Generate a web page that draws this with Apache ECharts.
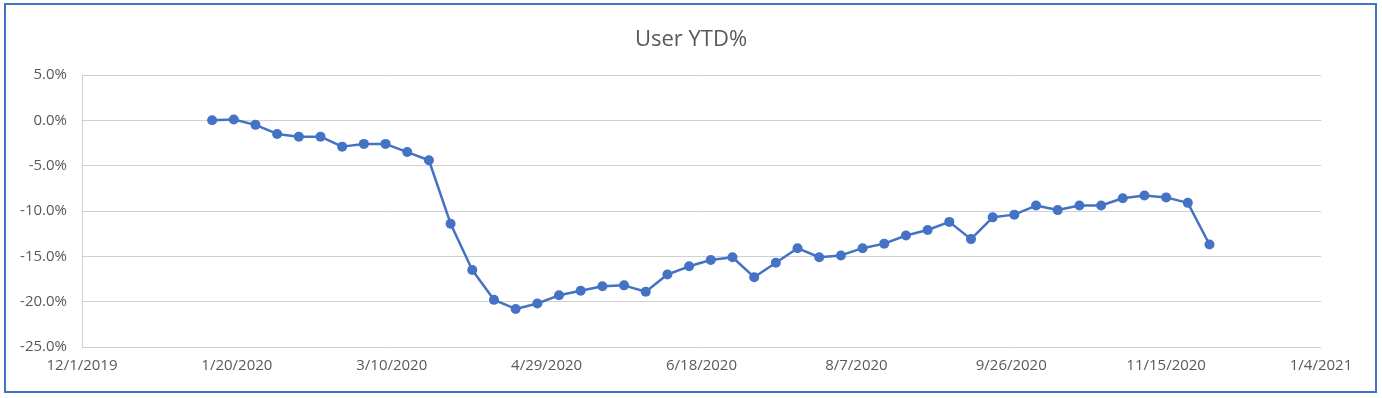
<!DOCTYPE html>
<html>
<head>
<meta charset="utf-8">
<script src="https://cdn.jsdelivr.net/npm/echarts@6/dist/echarts.min.js"></script>
<style>
html,body{margin:0;padding:0;background:#fff;}
#chart{width:1382px;height:398px;}
</style>
</head>
<body>
<div id="chart"></div>
<script>
const dates = [
  '1/12/2020','1/19/2020','1/26/2020','2/2/2020','2/9/2020','2/16/2020','2/23/2020','3/1/2020',
  '3/8/2020','3/15/2020','3/22/2020','3/29/2020','4/5/2020','4/12/2020','4/19/2020','4/26/2020',
  '5/3/2020','5/10/2020','5/17/2020','5/24/2020','5/31/2020','6/7/2020','6/14/2020','6/21/2020',
  '6/28/2020','7/5/2020','7/12/2020','7/19/2020','7/26/2020','8/2/2020','8/9/2020','8/16/2020',
  '8/23/2020','8/30/2020','9/6/2020','9/13/2020','9/20/2020','9/27/2020','10/4/2020','10/11/2020',
  '10/18/2020','10/25/2020','11/1/2020','11/8/2020','11/15/2020','11/22/2020','11/29/2020'
];
const userYTD = [
  0.0, 0.1, -0.5, -1.5, -1.8, -1.8, -2.9, -2.6,
  -2.6, -3.5, -4.4, -11.4, -16.5, -19.8, -20.8, -20.2,
  -19.3, -18.8, -18.3, -18.2, -18.9, -17.0, -16.1, -15.4,
  -15.1, -17.3, -15.7, -14.1, -15.1, -14.9, -14.1, -13.6,
  -12.7, -12.1, -11.2, -13.1, -10.7, -10.4, -9.4, -9.9,
  -9.4, -9.4, -8.6, -8.3, -8.5, -9.1, -13.7
];
const xTickStart = '12/1/2019';
const xTickEnd = '1/4/2021';
const xTickStepDays = 50;
const yTicks = [-25, -20, -15, -10, -5, 0, 5];

function toSerial(s){
  const p = s.split('/').map(Number);
  return Date.UTC(p[2], p[0]-1, p[1]) / 86400000 + 25569;
}
function fromSerial(n){
  const d = new Date((n - 25569) * 86400000);
  return (d.getUTCMonth()+1) + '/' + d.getUTCDate() + '/' + d.getUTCFullYear();
}

const seriesData = dates.map((d,i)=>[toSerial(d), userYTD[i]]);
const font = '"Open Sans", "DejaVu Sans", sans-serif';
const txt = '#595959';

const chart = echarts.init(document.getElementById('chart'), null, {renderer:'canvas'});
chart.setOption({
  animation:false,
  backgroundColor:'#fff',
  title:{
    text:'User YTD%', left:'center', top:24,
    textStyle:{fontFamily:font, fontSize:22, fontWeight:'normal', color:txt}
  },
  graphic:[{
    type:'rect', silent:true, z:100,
    shape:{x:5, y:4, width:1371, height:388},
    style:{fill:'none', stroke:'#4472C4', lineWidth:2}
  }],
  grid:{left:82, right:61, top:75, bottom:51, containLabel:false},
  xAxis:{
    type:'value',
    min: toSerial(xTickStart),
    max: toSerial(xTickEnd),
    interval: xTickStepDays,
    axisLine:{show:true, lineStyle:{color:'#D0D0D0', width:1}},
    axisTick:{show:false},
    splitLine:{show:false},
    axisLabel:{
      formatter: v => fromSerial(v),
      fontFamily:font, fontSize:15, color:txt, margin:11
    }
  },
  yAxis:{
    type:'value',
    min: yTicks[0], max: yTicks[yTicks.length-1], interval: 5,
    axisLine:{show:true, lineStyle:{color:'#D0D0D0', width:1}},
    axisTick:{show:false},
    splitLine:{show:true, lineStyle:{color:'#D0D0D0', width:1}},
    axisLabel:{
      formatter: v => v.toFixed(1) + '%',
      fontFamily:font, fontSize:15, color:txt, margin:15
    }
  },
  series:[{
    type:'line',
    data: seriesData,
    symbol:'circle',
    symbolSize:10,
    lineStyle:{color:'#4472C4', width:2.5},
    itemStyle:{color:'#4472C4'}
  }]
});
</script>
</body>
</html>
